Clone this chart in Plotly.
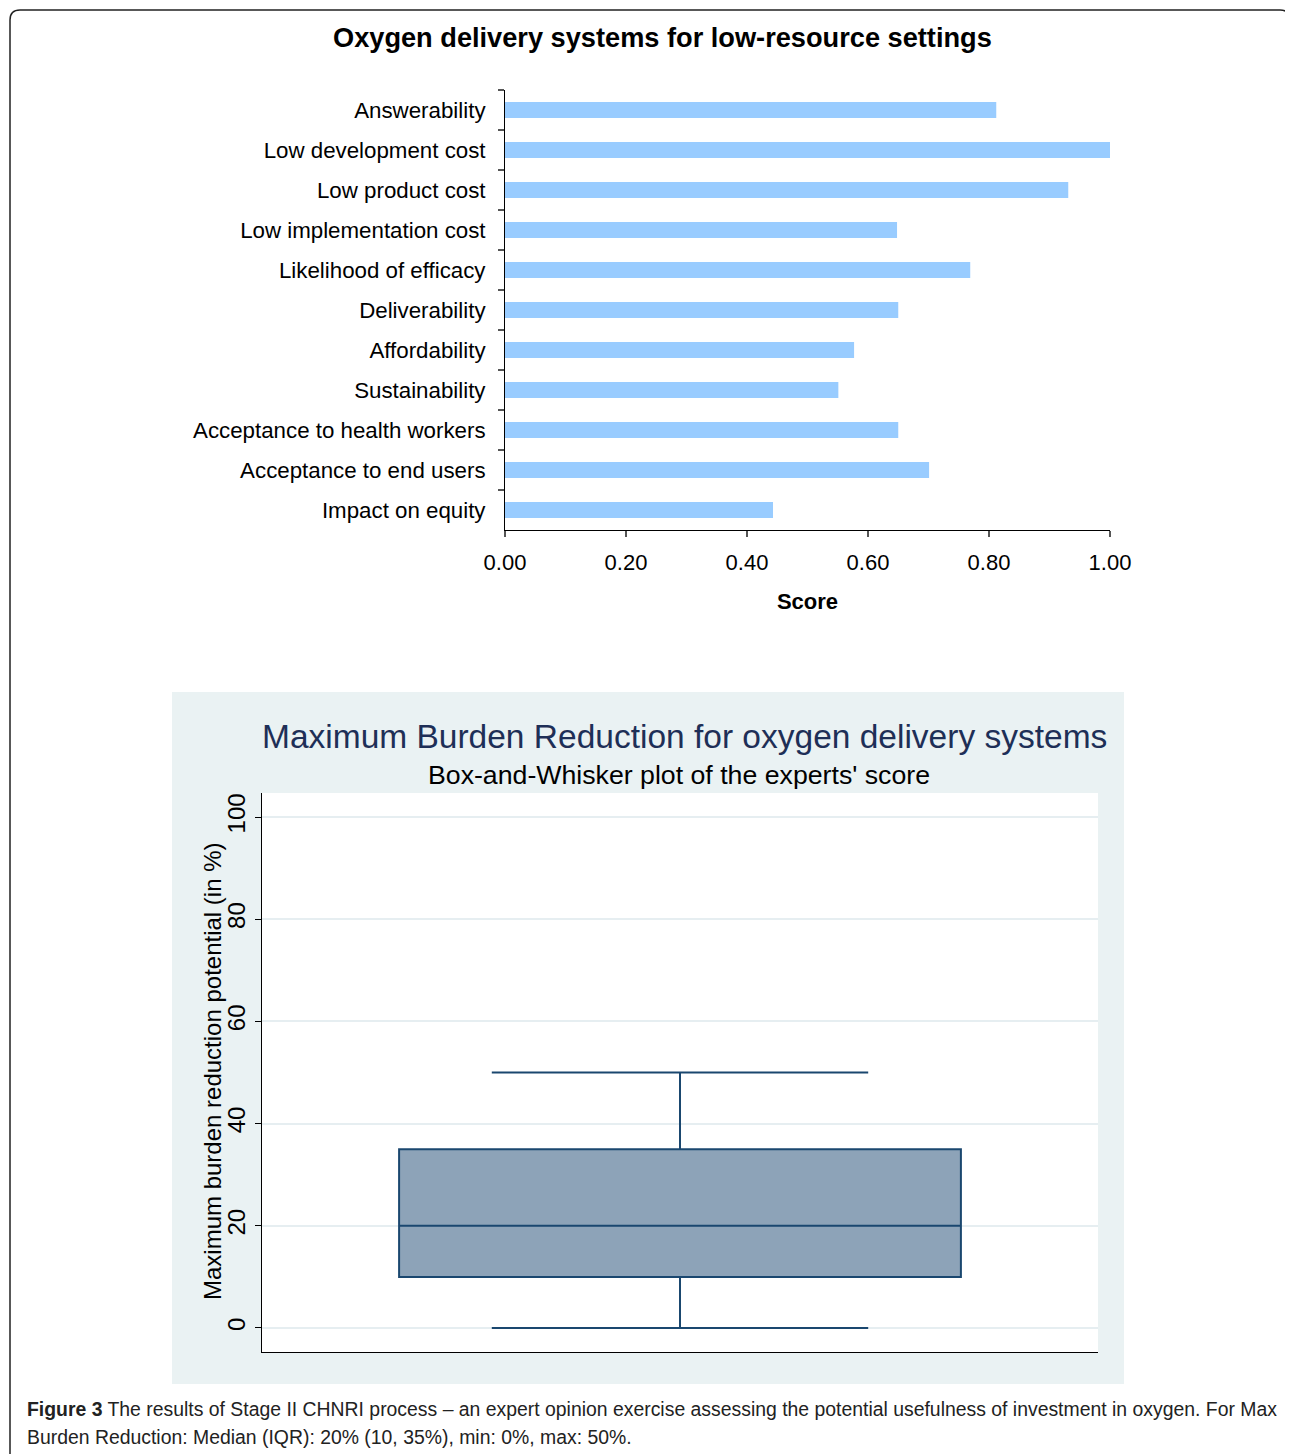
import plotly.graph_objects as go

# ---------------- data ----------------
categories = [
    "Answerability",
    "Low development cost",
    "Low product cost",
    "Low implementation cost",
    "Likelihood of efficacy",
    "Deliverability",
    "Affordability",
    "Sustainability",
    "Acceptance to health workers",
    "Acceptance to end users",
    "Impact on equity",
]
scores = [0.812, 1.00, 0.931, 0.648, 0.769, 0.650, 0.577, 0.551, 0.650, 0.701, 0.443]
score_ticks = [0.0, 0.2, 0.4, 0.6, 0.8, 1.0]

mbr_min = [0]
mbr_q1 = [10]
mbr_median = [20]
mbr_q3 = [35]
mbr_max = [50]
mbr_ticks = [0, 20, 40, 60, 80, 100]

W, H = 1293, 1454
OFF = 8  # page body margin


def px(x):
    return (x - OFF) / W


def py(y):
    return 1 - (y - OFF) / H


FONT = "Liberation Sans, Arial, Helvetica, sans-serif"
CAPFONT = "Liberation Sans, Arial, sans-serif"

fig = go.Figure()

fig.add_trace(go.Bar(
    x=scores, y=categories, orientation="h",
    marker=dict(color="#99CCFF", line=dict(width=0)),
    width=0.4, xaxis="x", yaxis="y", hoverinfo="x+y",
))

fig.add_trace(go.Box(
    x=[0], q1=mbr_q1, median=mbr_median, q3=mbr_q3,
    lowerfence=mbr_min, upperfence=mbr_max,
    width=0.672, whiskerwidth=0.67,
    fillcolor="#8DA3B8", line=dict(color="#1A476F", width=2),
    boxpoints=False, xaxis="x2", yaxis="y2", name="",
))

# background panel & white plot region for box plot
shapes = [
    dict(type="rect", xref="paper", yref="paper", layer="below",
         x0=px(172), x1=px(1124), y0=py(1384), y1=py(692),
         fillcolor="#EAF2F3", line=dict(width=0)),
    dict(type="rect", xref="paper", yref="paper", layer="below",
         x0=px(262), x1=px(1098), y0=py(1352), y1=py(793),
         fillcolor="white", line=dict(width=0)),
]

# rounded outer border
x0, x1, y0, y1, r = 10, 1290, 10, 1480, 10
path = (
    f"M {px(x0 + r)},{py(y0)} L {px(x1 - r)},{py(y0)} "
    f"Q {px(x1)},{py(y0)} {px(x1)},{py(y0 + r)} "
    f"L {px(x1)},{py(y1 - r)} Q {px(x1)},{py(y1)} {px(x1 - r)},{py(y1)} "
    f"L {px(x0 + r)},{py(y1)} Q {px(x0)},{py(y1)} {px(x0)},{py(y1 - r)} "
    f"L {px(x0)},{py(y0 + r)} Q {px(x0)},{py(y0)} {px(x0 + r)},{py(y0)} Z"
)
shapes.append(dict(type="path", xref="paper", yref="paper", path=path,
                   line=dict(color="#222222", width=1.5), layer="above"))

annotations = [
    dict(text="<b>Oxygen delivery systems for low-resource settings</b>",
         x=px(662), y=py(38), xref="paper", yref="paper", showarrow=False,
         xanchor="center", yanchor="middle",
         font=dict(family=FONT, size=27.2, color="black")),
    dict(text="Maximum Burden Reduction for oxygen delivery systems",
         x=px(685), y=py(737), xref="paper", yref="paper", showarrow=False,
         xanchor="center", yanchor="middle",
         font=dict(family=FONT, size=33.5, color="#1E2F57")),
    dict(text="Box-and-Whisker plot of the experts' score",
         x=px(679), y=py(775), xref="paper", yref="paper", showarrow=False,
         xanchor="center", yanchor="middle",
         font=dict(family=FONT, size=26.7, color="black")),
    dict(text="Maximum burden reduction potential (in %)",
         x=px(212), y=py(1071), xref="paper", yref="paper", showarrow=False,
         xanchor="center", yanchor="middle", textangle=-90,
         font=dict(family=FONT, size=24, color="black")),
    dict(text="<b>Figure 3</b> The results of Stage II CHNRI process \u2013 an expert opinion exercise assessing the potential usefulness of investment in oxygen. For Max",
         x=px(25), y=py(1409), xref="paper", yref="paper", showarrow=False,
         xanchor="left", yanchor="middle",
         font=dict(family=CAPFONT, size=19.4, color="#222222")),
    dict(text="Burden Reduction: Median (IQR): 20% (10, 35%), min: 0%, max: 50%.",
         x=px(25), y=py(1437), xref="paper", yref="paper", showarrow=False,
         xanchor="left", yanchor="middle",
         font=dict(family=CAPFONT, size=19.4, color="#222222")),
]

fig.update_layout(
    width=W, height=H,
    margin=dict(l=0, r=0, t=0, b=0, autoexpand=False),
    paper_bgcolor="white",
    plot_bgcolor="rgba(0,0,0,0)",
    showlegend=False,
    font=dict(family=FONT, color="black"),
    shapes=shapes,
    annotations=annotations,
    bargap=0.6,
    xaxis=dict(
        domain=[px(505), px(1110)], anchor="y", automargin=False,
        range=[0, 1.0], tickvals=score_ticks, tickformat=".2f",
        ticks="outside", ticklen=6, tickcolor="#555555", tickwidth=1.5,
        showline=True, linecolor="black", linewidth=1,
        showgrid=False, zeroline=False,
        tickfont=dict(family=FONT, size=22, color="black"),
        ticklabelstandoff=7,
        title=dict(text="<b>Score</b>", font=dict(family=FONT, size=22, color="black"), standoff=19),
    ),
    yaxis=dict(
        domain=[py(530), py(90)], anchor="x", automargin=False,
        type="category", categoryorder="array", categoryarray=categories,
        range=[10.5, -0.5],
        tickson="boundaries", ticks="outside", ticklen=6, tickcolor="#555555", tickwidth=1.5,
        showline=True, linecolor="black", linewidth=1,
        showgrid=False, zeroline=False,
        tickfont=dict(family=FONT, size=22.3, color="black"),
        ticklabelstandoff=14,
    ),
    xaxis2=dict(
        domain=[px(262), px(1098)], anchor="y2", automargin=False,
        range=[-0.5, 0.5], showticklabels=False, ticks="",
        showline=True, linecolor="black", linewidth=1.2,
        showgrid=False, zeroline=False,
    ),
    yaxis2=dict(
        domain=[py(1352), py(793)], anchor="x2", automargin=False,
        range=[-4.7, 104.7], tickvals=mbr_ticks,
        tickangle=-90, ticks="outside", ticklen=6, tickcolor="black", tickwidth=1,
        showline=True, linecolor="black", linewidth=1.2,
        showgrid=True, gridcolor="#E6EEF1", gridwidth=1.5, zeroline=False,
        tickfont=dict(family=FONT, size=24, color="black"),
    ),
)

fig.write_html("out.html", config={"displayModeBar": False})
